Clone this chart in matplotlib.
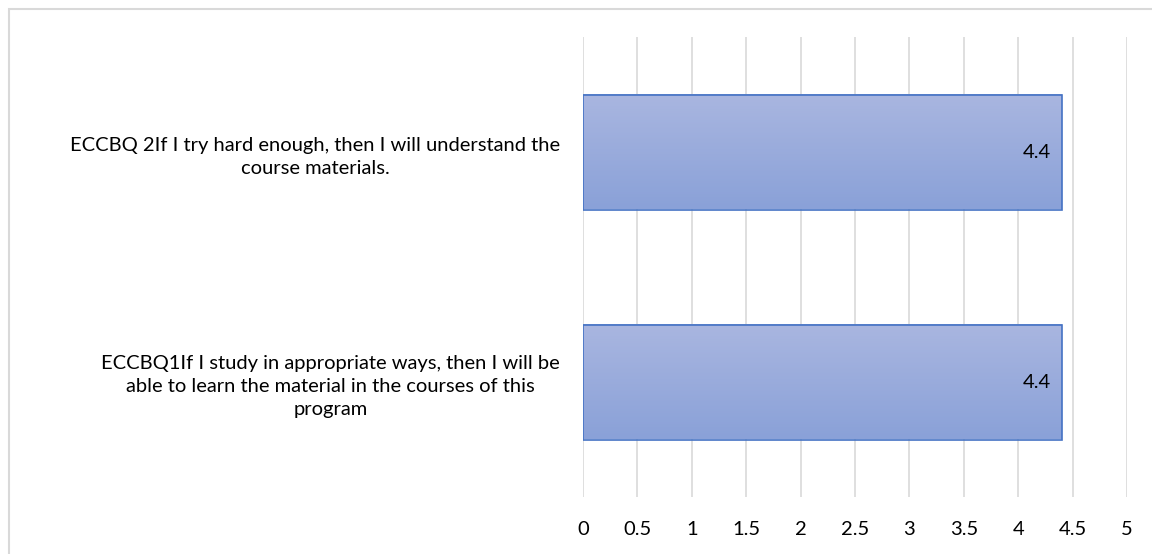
import matplotlib
matplotlib.use("Agg")
import matplotlib.pyplot as plt
from matplotlib.patches import Rectangle
from matplotlib.colors import LinearSegmentedColormap
import numpy as np

plt.rcParams['font.family'] = ['Lato', 'DejaVu Sans']

labels = ["ECCBQ1If I study in appropriate ways, then I will be\nable to learn the material in the courses of this\nprogram",
          "ECCBQ 2If I try hard enough, then I will understand the\ncourse materials."]
means = [4.4, 4.4]
ticks = [0, 0.5, 1, 1.5, 2, 2.5, 3, 3.5, 4, 4.5, 5]

fig = plt.figure(figsize=(11.52, 5.54), dpi=100)
# chart frame, cut by the picture edge
fig.patches.append(Rectangle((9/1152, -0.1), 1.2, 1 - 9/554 + 0.1, transform=fig.transFigure,
                             fill=False, edgecolor='#d9d9d9', linewidth=1.5))
ax = fig.add_axes([583/1152, 57/554, 544/1152, 460/554])

ypos = np.arange(len(labels))
bars = ax.barh(ypos, means, height=0.5, color='none', edgecolor='#4472c4', linewidth=1.2, zorder=3)

grad = np.linspace(0, 1, 100).reshape(-1, 1)
cmap = LinearSegmentedColormap.from_list('g', ['#8aa1d8', '#a9b6e0'])
for b in bars:
    x0, y0, w, h = b.get_x(), b.get_y(), b.get_width(), b.get_height()
    ax.imshow(grad, extent=[x0, x0 + w, y0, y0 + h], origin='lower', cmap=cmap,
              aspect='auto', zorder=2)
    ax.text(x0 + w - 0.1, y0 + h / 2, f"{w:.1f}", ha='right', va='center', fontsize=14.5, zorder=4)

ax.set_xlim(0, 5)
ax.set_ylim(-0.5, 1.5)
ax.set_xticks(ticks)
ax.set_xticklabels([f"{t:g}" for t in ticks], fontsize=14.5)
ax.set_yticks(ypos)
ax.set_yticklabels(labels, fontsize=14.5, multialignment='center', linespacing=1.45)
ax.tick_params(axis='both', length=0)
ax.tick_params(axis='x', pad=17)
ax.tick_params(axis='y', pad=16.5)
ax.grid(axis='x', color='#d9d9d9', linewidth=1.2, zorder=0)
ax.set_axisbelow(True)
for s in ax.spines.values():
    s.set_visible(False)

fig.savefig("out.png", dpi=100)
